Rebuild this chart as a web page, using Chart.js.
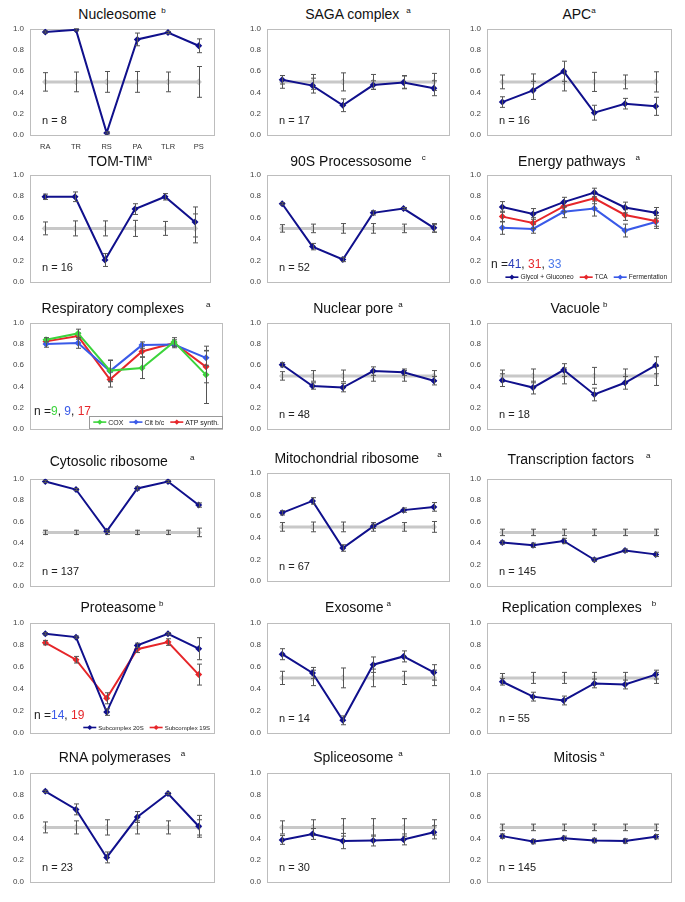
<!DOCTYPE html>
<html>
<head>
<meta charset="utf-8">
<script src="https://cdn.jsdelivr.net/npm/chart.js@4.4.0/dist/chart.umd.min.js"></script>
<style>
  body { margin:0; background:#fff; width:685px; height:902px; position:relative; overflow:hidden;
         font-family:"Liberation Sans", Arial, sans-serif; }
  .ttl { position:absolute; text-align:center; font-size:14px; color:#111; line-height:18px; white-space:nowrap; }
  .ttl sup { font-size:8px; vertical-align:6px; line-height:0; }
  canvas { position:absolute; }
</style>
</head>
<body>
<script>
/* ================================================================
   DATA
================================================================ */
const CATEGORIES = ['RA', 'TR', 'RS', 'PA', 'TLR', 'PS'];
const RANDOM     = [0.5, 0.5, 0.5, 0.5, 0.5, 0.5];

const nucleosome     = [0.97, 0.99, 0.02, 0.90, 0.965, 0.84];
const nucleosomeErr  = [0.01, 0.01, 0.01, 0.06, 0.01, 0.065];
const nucleosomeRnd  = [0.087, 0.093, 0.098, 0.098, 0.093, 0.145];

const saga     = [0.52, 0.465, 0.28, 0.47, 0.495, 0.44];
const sagaErr  = [0.04, 0.07, 0.06, 0.04, 0.06, 0.07];
const sagaRnd  = [0.06, 0.07, 0.085, 0.07, 0.06, 0.08];

const apc     = [0.31, 0.42, 0.60, 0.21, 0.295, 0.27];
const apcErr  = [0.05, 0.085, 0.095, 0.07, 0.05, 0.085];
const apcRnd  = [0.065, 0.075, 0.085, 0.09, 0.065, 0.095];

const tomtim     = [0.795, 0.795, 0.205, 0.68, 0.795, 0.56];
const tomtimErr  = [0.025, 0.045, 0.06, 0.05, 0.03, 0.14];
const tomtimRnd  = [0.06, 0.07, 0.07, 0.075, 0.065, 0.135];

const proc90     = [0.73, 0.33, 0.21, 0.645, 0.685, 0.505];
const proc90Err  = [0.01, 0.03, 0.02, 0.02, 0.01, 0.04];
const proc90Rnd  = [0.035, 0.04, 0.045, 0.045, 0.04, 0.035];

const glycol      = [0.70, 0.635, 0.745, 0.835, 0.695, 0.645];
const glycolErr   = [0.05, 0.05, 0.045, 0.04, 0.05, 0.05];
const tca         = [0.61, 0.55, 0.705, 0.78, 0.625, 0.57];
const tcaErr      = [0.05, 0.05, 0.05, 0.05, 0.05, 0.05];
const ferment     = [0.505, 0.495, 0.655, 0.685, 0.48, 0.56];
const fermentErr  = [0.06, 0.04, 0.055, 0.07, 0.06, 0.06];

const cox         = [0.84, 0.90, 0.55, 0.575, 0.82, 0.51];
const coxErr      = [0.02, 0.04, 0.10, 0.10, 0.04, 0.27];
const citbc       = [0.80, 0.81, 0.545, 0.79, 0.795, 0.67];
const citbcErr    = [0.03, 0.05, 0.10, 0.03, 0.03, 0.07];
const atpSynth    = [0.825, 0.875, 0.465, 0.73, 0.81, 0.585];
const atpSynthErr = [0.03, 0.03, 0.07, 0.05, 0.03, 0.15];

const pore     = [0.605, 0.405, 0.39, 0.545, 0.535, 0.455];
const poreErr  = [0.02, 0.03, 0.04, 0.04, 0.03, 0.04];
const poreRnd  = [0.04, 0.05, 0.055, 0.05, 0.05, 0.05];

const vacuole     = [0.46, 0.39, 0.555, 0.325, 0.435, 0.60];
const vacuoleErr  = [0.06, 0.06, 0.06, 0.06, 0.06, 0.08];
const vacuoleRnd  = [0.055, 0.065, 0.075, 0.08, 0.065, 0.09];

const cytoRibo     = [0.975, 0.90, 0.51, 0.91, 0.975, 0.755];
const cytoRiboErr  = [0.01, 0.01, 0.01, 0.015, 0.01, 0.02];
const cytoRiboRnd  = [0.02, 0.02, 0.02, 0.02, 0.02, 0.04];

const mitoRibo     = [0.63, 0.74, 0.305, 0.505, 0.655, 0.685];
const mitoRiboErr  = [0.02, 0.03, 0.03, 0.02, 0.02, 0.04];
const mitoRiboRnd  = [0.04, 0.045, 0.045, 0.04, 0.04, 0.05];

const tfactors     = [0.405, 0.38, 0.42, 0.245, 0.33, 0.295];
const tfactorsErr  = [0.015, 0.02, 0.025, 0.015, 0.015, 0.02];
const tfactorsRnd  = [0.03, 0.03, 0.03, 0.03, 0.03, 0.03];

const sub20S     = [0.90, 0.87, 0.19, 0.795, 0.90, 0.765];
const sub20SErr  = [0.01, 0.01, 0.03, 0.02, 0.01, 0.10];
const sub19S     = [0.82, 0.665, 0.315, 0.76, 0.825, 0.53];
const sub19SErr  = [0.02, 0.03, 0.05, 0.03, 0.03, 0.095];

const exosome     = [0.715, 0.545, 0.115, 0.62, 0.695, 0.55];
const exosomeErr  = [0.05, 0.05, 0.04, 0.07, 0.05, 0.07];
const exosomeRnd  = [0.06, 0.07, 0.09, 0.08, 0.06, 0.07];

const replication     = [0.465, 0.33, 0.295, 0.45, 0.44, 0.53];
const replicationErr  = [0.03, 0.04, 0.04, 0.04, 0.04, 0.04];
const replicationRnd  = [0.04, 0.05, 0.05, 0.05, 0.05, 0.05];

const rnaPol     = [0.83, 0.665, 0.225, 0.595, 0.81, 0.51];
const rnaPolErr  = [0.01, 0.05, 0.05, 0.05, 0.01, 0.10];
const rnaPolRnd  = [0.05, 0.06, 0.07, 0.06, 0.06, 0.07];

const splice     = [0.385, 0.44, 0.375, 0.38, 0.39, 0.455];
const spliceErr  = [0.04, 0.05, 0.07, 0.05, 0.05, 0.06];
const spliceRnd  = [0.06, 0.07, 0.08, 0.08, 0.08, 0.07];

const mitosis     = [0.42, 0.37, 0.40, 0.38, 0.375, 0.415];
const mitosisErr  = [0.02, 0.02, 0.02, 0.02, 0.02, 0.02];
const mitosisRnd  = [0.03, 0.03, 0.03, 0.03, 0.03, 0.03];

/* ================================================================
   STYLE + LAYOUT
================================================================ */
const NAVY = '#10108c', RED = '#e6262a', BLUE = '#3a5ae8', GREEN = '#3cd43c', GREY = '#c8c8c8', ERR = '#555';
const FONT = '"Liberation Sans", Arial, sans-serif';

// plot area per row: [top, bottom, titleY]; per column: [left, right]
const ROW_Y = [[26,135,14],[172,282,161],[320,429,308],[476,586,461],[620,733,607],[770,882,757]];
const COL_X = [[30,214],[267,449],[487,671]];

const ser = (data, err, color) => ({ data, err, color });

const PANELS = [
  { title:'Nucleosome', sup:'b', gap:5, series:[ser(nucleosome, nucleosomeErr, NAVY)], rnd:nucleosomeRnd, n:'8', xLabels:true },
  { title:'SAGA complex', sup:'a', gap:7, series:[ser(saga, sagaErr, NAVY)], rnd:sagaRnd, n:'17' },
  { title:'APC', sup:'a', gap:0, series:[ser(apc, apcErr, NAVY)], rnd:apcRnd, n:'16' },
  { title:'TOM-TIM', sup:'a', gap:0, series:[ser(tomtim, tomtimErr, NAVY)], rnd:tomtimRnd, n:'16', adj:{r:-4} },
  { title:'90S Processosome', sup:'c', gap:10, series:[ser(proc90, proc90Err, NAVY)], rnd:proc90Rnd, n:'52' },
  { title:'Energy pathways', sup:'a', gap:10,
    series:[ser(glycol, glycolErr, NAVY), ser(tca, tcaErr, RED), ser(ferment, fermentErr, BLUE)],
    nParts:[['n =','#222'],['41','#2a3cb8'],[', ','#222'],['31',RED],[', ','#222'],['33','#4a78ea']],
    legend:{ items:[['Glycol + Gluconeo',NAVY],['TCA',RED],['Fermentation',BLUE]], y:0.045, font:6.5, box:false } },
  { title:'Respiratory complexes', sup:'a', gap:22, adj:{r:8},
    series:[ser(cox, coxErr, GREEN), ser(citbc, citbcErr, BLUE), ser(atpSynth, atpSynthErr, RED)],
    nParts:[['n =','#222'],['9',GREEN],[', ','#222'],['9',BLUE],[', ','#222'],['17',RED]],
    legend:{ items:[['COX',GREEN],['Cit b/c',BLUE],['ATP synth.',RED]], y:0.065, font:7, box:true } },
  { title:'Nuclear pore', sup:'a', gap:5, series:[ser(pore, poreErr, NAVY)], rnd:poreRnd, n:'48' },
  { title:'Vacuole', sup:'b', gap:3, series:[ser(vacuole, vacuoleErr, NAVY)], rnd:vacuoleRnd, n:'18' },
  { title:'Cytosolic ribosome', sup:'a', gap:22, series:[ser(cytoRibo, cytoRiboErr, NAVY)], rnd:cytoRiboRnd, n:'137' },
  { title:'Mitochondrial ribosome', sup:'a', gap:18, series:[ser(mitoRibo, mitoRiboErr, NAVY)], rnd:mitoRiboRnd, n:'67', adj:{t:-6,b:-5,ty:-3} },
  { title:'Transcription factors', sup:'a', gap:12, series:[ser(tfactors, tfactorsErr, NAVY)], rnd:tfactorsRnd, n:'145', adj:{ty:-2} },
  { title:'Proteasome', sup:'b', gap:3,
    series:[ser(sub20S, sub20SErr, NAVY), ser(sub19S, sub19SErr, RED)],
    nParts:[['n =','#222'],['14',BLUE],[', ','#222'],['19',RED]],
    legend:{ items:[['Subcomplex 20S',NAVY],['Subcomplex 19S',RED]], y:0.05, font:6, box:false } },
  { title:'Exosome', sup:'a', gap:3, series:[ser(exosome, exosomeErr, NAVY)], rnd:exosomeRnd, n:'14' },
  { title:'Replication complexes', sup:'b', gap:10, series:[ser(replication, replicationErr, NAVY)], rnd:replicationRnd, n:'55' },
  { title:'RNA polymerases', sup:'a', gap:10, series:[ser(rnaPol, rnaPolErr, NAVY)], rnd:rnaPolRnd, n:'23' },
  { title:'Spliceosome', sup:'a', gap:5, series:[ser(splice, spliceErr, NAVY)], rnd:spliceRnd, n:'30' },
  { title:'Mitosis', sup:'a', gap:3, series:[ser(mitosis, mitosisErr, NAVY)], rnd:mitosisRnd, n:'145' }
];

/* ================================================================
   PLUGINS
================================================================ */
const errorBars = {
  id: 'errorBars',
  afterDatasetDraw(chart, args) {
    const ds = chart.data.datasets[args.index];
    if (!ds.errors) return;
    const ctx = chart.ctx, ys = chart.scales.y;
    ctx.save();
    ctx.strokeStyle = ERR;
    ctx.lineWidth = 1;
    args.meta.data.forEach((el, i) => {
      const v = ds.data[i], e = ds.errors[i];
      const x = Math.round(el.x) + 0.5;
      const y1 = ys.getPixelForValue(v + e), y2 = ys.getPixelForValue(v - e);
      ctx.beginPath();
      ctx.moveTo(x, y1); ctx.lineTo(x, y2);
      ctx.moveTo(x - 2.5, y1); ctx.lineTo(x + 2.5, y1);
      ctx.moveTo(x - 2.5, y2); ctx.lineTo(x + 2.5, y2);
      ctx.stroke();
    });
    ctx.restore();
  }
};

const frame = {
  id: 'frame',
  beforeDatasetsDraw(chart) {
    const { ctx, chartArea: a } = chart;
    ctx.save();
    ctx.strokeStyle = '#bdbdbd';
    ctx.lineWidth = 1;
    ctx.strokeRect(Math.round(a.left) + 0.5, Math.round(a.top) + 0.5,
                   Math.round(a.right - a.left), Math.round(a.bottom - a.top));
    ctx.restore();
  }
};

function overlay(p) {
  return {
    id: 'overlay',
    afterDraw(chart) {
      const { ctx, chartArea: a } = chart;
      const ys = chart.scales.y;
      ctx.save();
      // n = ... label
      const parts = p.nParts || [['n = ' + p.n, '#222']];
      ctx.font = (p.nParts ? 12 : 11) + 'px ' + FONT;
      ctx.textBaseline = 'middle';
      let x = a.left + (p.nParts ? 4 : 12);
      const y = ys.getPixelForValue(p.nParts ? 0.16 : 0.13);
      parts.forEach(([t, c]) => { ctx.fillStyle = c; ctx.fillText(t, x, y); x += ctx.measureText(t).width; });

      // in-plot legend
      if (p.legend) {
        const L = p.legend, seg = 13;
        ctx.font = L.font + 'px ' + FONT;
        const widths = L.items.map(([t]) => seg + 2 + ctx.measureText(t).width);
        const total = widths.reduce((s, w) => s + w, 0) + 6 * (L.items.length - 1);
        let lx = a.right - (L.box ? 3 : 4) - total;
        const ly = ys.getPixelForValue(L.y);
        if (L.box) {
          ctx.fillStyle = '#fff';
          ctx.strokeStyle = '#999';
          ctx.lineWidth = 1;
          ctx.fillRect(lx - 4, ly - 6, total + 7, 12);
          ctx.strokeRect(Math.round(lx - 4) + 0.5, Math.round(ly - 6) + 0.5, Math.round(total + 7), 12);
        }
        L.items.forEach(([t, c], i) => {
          ctx.strokeStyle = c; ctx.fillStyle = c; ctx.lineWidth = 1.6;
          ctx.beginPath(); ctx.moveTo(lx, ly); ctx.lineTo(lx + seg, ly); ctx.stroke();
          const mx = lx + seg / 2;
          ctx.beginPath();
          ctx.moveTo(mx, ly - 2.6); ctx.lineTo(mx + 2.6, ly); ctx.lineTo(mx, ly + 2.6); ctx.lineTo(mx - 2.6, ly);
          ctx.closePath(); ctx.fill();
          ctx.fillStyle = '#222';
          ctx.fillText(t, lx + seg + 2, ly + 0.5);
          lx += widths[i] + 6;
        });
      }
      ctx.restore();
    }
  };
}

/* ================================================================
   BUILD PANELS
================================================================ */
const PAD_L = 34, PAD_T = 8, PAD_R = 8, PAD_B = 22;

PANELS.forEach((p, i) => {
  const row = Math.floor(i / 3), col = i % 3, adj = p.adj || {};
  let [L, R] = COL_X[col];
  let [T, B, TY] = ROW_Y[row];
  L += adj.l || 0; R += adj.r || 0; T += adj.t || 0; B += adj.b || 0; TY += adj.ty || 0;

  const t = document.createElement('div');
  t.className = 'ttl';
  t.style.left = L + 'px';
  t.style.width = (R - L) + 'px';
  t.style.top = (TY - 9) + 'px';
  t.innerHTML = p.title + '<sup style="margin-left:' + p.gap + 'px">' + p.sup + '</sup>';
  document.body.appendChild(t);

  const cv = document.createElement('canvas');
  const cw = (R - L) + PAD_L + PAD_R, ch = (B - T) + PAD_T + PAD_B;
  cv.width = cw; cv.height = ch;
  cv.style.width = cw + 'px'; cv.style.height = ch + 'px';
  cv.style.left = (L - PAD_L) + 'px';
  cv.style.top = (T - PAD_T) + 'px';
  document.body.appendChild(cv);

  const datasets = p.series.map(s => ({
    data: s.data, errors: s.err,
    borderColor: s.color, backgroundColor: s.color,
    borderWidth: 2, tension: 0,
    pointStyle: 'rectRot', pointRadius: 3.5,
    pointBackgroundColor: s.color, pointBorderColor: s.color, pointBorderWidth: 0
  }));
  if (p.rnd) {
    datasets.push({
      data: RANDOM, errors: p.rnd,
      borderColor: GREY, backgroundColor: GREY,
      borderWidth: 3, tension: 0,
      pointStyle: 'rectRot', pointRadius: 3.3,
      pointBackgroundColor: GREY, pointBorderColor: GREY, pointBorderWidth: 0
    });
  }

  new Chart(cv, {
    type: 'line',
    data: { labels: CATEGORIES, datasets },
    options: {
      responsive: false,
      animation: false,
      events: [],
      layout: { padding: { top: PAD_T, right: PAD_R, left: 0, bottom: 0 } },
      plugins: { legend: { display: false }, tooltip: { enabled: false } },
      scales: {
        x: {
          type: 'category', offset: true,
          grid: { display: false, drawTicks: false },
          border: { display: false },
          ticks: { display: !!p.xLabels, padding: 7, color: '#333',
                   font: { family: FONT, size: 7.5 }, maxRotation: 0 },
          afterFit: s => { s.height = PAD_B; }
        },
        y: {
          min: 0, max: 1,
          grid: { display: false, drawTicks: false },
          border: { display: false },
          ticks: { stepSize: 0.2, padding: 6, color: '#444',
                   font: { family: FONT, size: 8 },
                   callback: v => v.toFixed(1) },
          afterFit: s => { s.width = PAD_L; }
        }
      }
    },
    plugins: [frame, errorBars, overlay(p)]
  });
});
</script>
</body>
</html>
